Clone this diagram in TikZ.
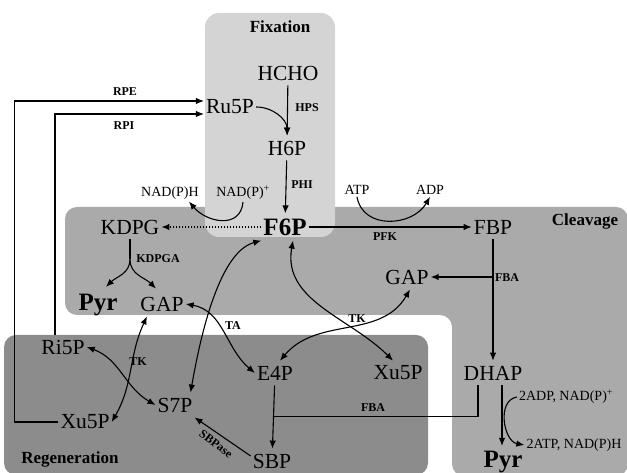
\documentclass[tikz,border=0pt]{standalone}
\usepackage{fontspec}
\setmainfont{Liberation Serif}
\usetikzlibrary{calc, arrows.meta}

\definecolor{fixgray}{RGB}{212,212,212}
\definecolor{cleavegray}{RGB}{170,170,170}
\definecolor{regengray}{RGB}{140,140,140}

\begin{document}
\begin{tikzpicture}[
        x=1pt, y=1pt,
        met/.style={inner xsep=2pt, inner ysep=5pt, font=\fontsize{21.5}{24}\selectfont},
        metbig/.style={inner xsep=2pt, inner ysep=5pt, font=\fontsize{25}{28}\selectfont\bfseries},
        cof/.style={inner sep=2pt, font=\fontsize{14}{16}\selectfont},
        enz/.style={inner sep=1pt, font=\fontsize{12}{14}\selectfont\bfseries},
        region/.style={inner sep=1pt, font=\fontsize{17}{20}\selectfont\bfseries},
        tip/.tip={Latex[length=8pt, width=6.5pt]},
        rx/.style={-tip, line width=1.1pt},
        rev/.style={tip-tip, line width=1.1pt},
        plain/.style={line width=1.1pt}
    ]
    \useasboundingbox (0,0) rectangle (627,473);

    % compartments
    \fill[cleavegray, rounded corners=12pt] (65,158) -- (65,266) -- (628,266) -- (628,-3) -- (452,-3) -- (452,158) -- cycle;
    \fill[regengray, rounded corners=12pt] (4,-2) rectangle (428,138);
    \fill[fixgray, rounded corners=14pt] (205,236) rectangle (335,460);

    \node[region] (fixLabel) at (280,446) {Fixation};
    \node[region] (cleaveLabel) at (585,252) {Cleavage};
    \node[region] (regenLabel) at (70,14) {Regeneration};

    % metabolites
    \node[met] (HCHO) at (288,400) {HCHO};
    \node[met] (Ru5P) at (230,366) {Ru5P};
    \node[met] (H6P) at (287,325) {H6P};
    \node[metbig] (F6P) at (285,246) {F6P};
    \node[met] (KDPG) at (130,246) {KDPG};
    \node[cof] (NADPH) at (170,280) {NAD(P)H};
    \node[cof] (NADP) at (243,280) {NAD(P)\textsuperscript{+}};
    \node[cof] (ATP) at (357,283) {ATP};
    \node[cof] (ADP) at (430,283) {ADP};
    \node[met] (FBP) at (493,246) {FBP};
    \node[met] (GAPr) at (407,196) {GAP};
    \node[met] (GAPl) at (162,169) {GAP};
    \node[metbig] (PyrL) at (98,168) {Pyr};
    \node[met] (Ri5P) at (63,126) {Ri5P};
    \node[met] (Xu5PL) at (85,51) {Xu5P};
    \node[met] (S7P) at (175,68) {S7P};
    \node[met] (E4P) at (275,100) {E4P};
    \node[met] (Xu5PR) at (398,100) {Xu5P};
    \node[met] (DHAP) at (493,100) {DHAP};
    \node[met] (SBP) at (272,12) {SBP};
    \node[metbig] (PyrR) at (503,11) {Pyr};
    \node[cof] (ADP2) at (566,76) {2ADP, NAD(P)\textsuperscript{+}};
    \node[cof] (ATP2) at (574,28) {2ATP, NAD(P)H};

    % enzymes
    \node[enz] (rpeLabel) at (125,381) {RPE};
    \node[enz] (rpiLabel) at (124,347) {RPI};
    \node[enz] (hpsLabel) at (307,365) {HPS};
    \node[enz] (phiLabel) at (302,288) {PHI};
    \node[enz] (pfkLabel) at (385,236) {PFK};
    \node[enz] (kdpgaLabel) at (158,214) {KDPGA};
    \node[enz] (fbaLabelR) at (507,195) {FBA};
    \node[enz] (tkLabelR) at (357,154) {TK};
    \node[enz] (taLabel) at (233,147) {TA};
    \node[enz] (tkLabelL) at (138,111) {TK};
    \node[enz] (fbaLabelB) at (373,65) {FBA};
    \node[enz, inner sep=0pt, rotate=-37] (sbpaseLabel) at (216,29) {SBPase};

    % fixation
    \draw[rx] (HCHO) -- (H6P);
    \draw[rx] (Ru5P.east) to[out=0, in=90] (H6P.north);
    \draw[rx] (H6P) -- (F6P);

    % cleavage
    \draw[rx, dash pattern=on 1.5pt off 1.5pt] (F6P) -- (KDPG);
    \draw[rx] (NADP.south) to[out=-95, in=-50, looseness=1.3] ([xshift=-12pt]NADPH.south east);
    \draw[rx] (ATP.south) to[out=-80, in=-120, looseness=1.2] (ADP.south);
    \draw[rx] (F6P) -- (FBP);
    \draw[rx] (FBP) -- (DHAP);
    \coordinate (fbaSplit) at (FBP |- GAPr);
    \draw[rx] (fbaSplit) -- (GAPr);
    \draw[plain] (KDPG.south) -- ++(0,-20) coordinate (kdpgSplit);
    \draw[rx] (kdpgSplit) to[out=-90, in=45] ([xshift=8pt,yshift=2pt]PyrL.north);
    \draw[rx] (kdpgSplit) to[out=-90, in=135] ([xshift=-6pt,yshift=3pt]GAPl.north);
    \coordinate (dhapOut) at ([xshift=9pt]DHAP.south);
    \draw[rx] (dhapOut) -- (dhapOut |- PyrR.north);
    \draw[rx] (ADP2.west) to[out=190, in=170, looseness=1.1] (ATP2.west);

    % regeneration
    \draw[rx] (Xu5PL.west) -- ++(-44,0) |- ([yshift=6pt]Ru5P.west);
    \draw[rx] ([xshift=-8pt]Ri5P.north) |- ([yshift=-7pt]Ru5P.west);
    \draw[rev] (Ri5P.east) to[out=-20, in=150] (S7P.west);
    \draw[rev] ([xshift=-15pt]GAPl.south) to[out=-115, in=60] (Xu5PL.east);
    \draw[rev] (F6P.south west) to[out=195, in=80, looseness=0.7] ([xshift=-4pt]S7P.north east);
    \draw[rev] (GAPl.east) to[out=-10, in=140] (E4P.west);
    \draw[rev] ([xshift=8pt]F6P.south) to[out=-100, in=135] ([xshift=-5pt]Xu5PR.north);
    \draw[rev] ([xshift=5pt]E4P.north) to[out=50, in=-120] ([xshift=3pt]GAPr.south);
    \draw[rx] (E4P) -- (SBP);
    \draw[rx] ([yshift=5pt]SBP.west) -- (S7P.south east);
    \coordinate (dhapFba) at ([xshift=-15pt]DHAP.south);
    \coordinate (fbaJoin) at ($(E4P.south)!0.5!(SBP.north)$);
    \draw[plain] (dhapFba) |- (fbaJoin);
\end{tikzpicture}
\end{document}
